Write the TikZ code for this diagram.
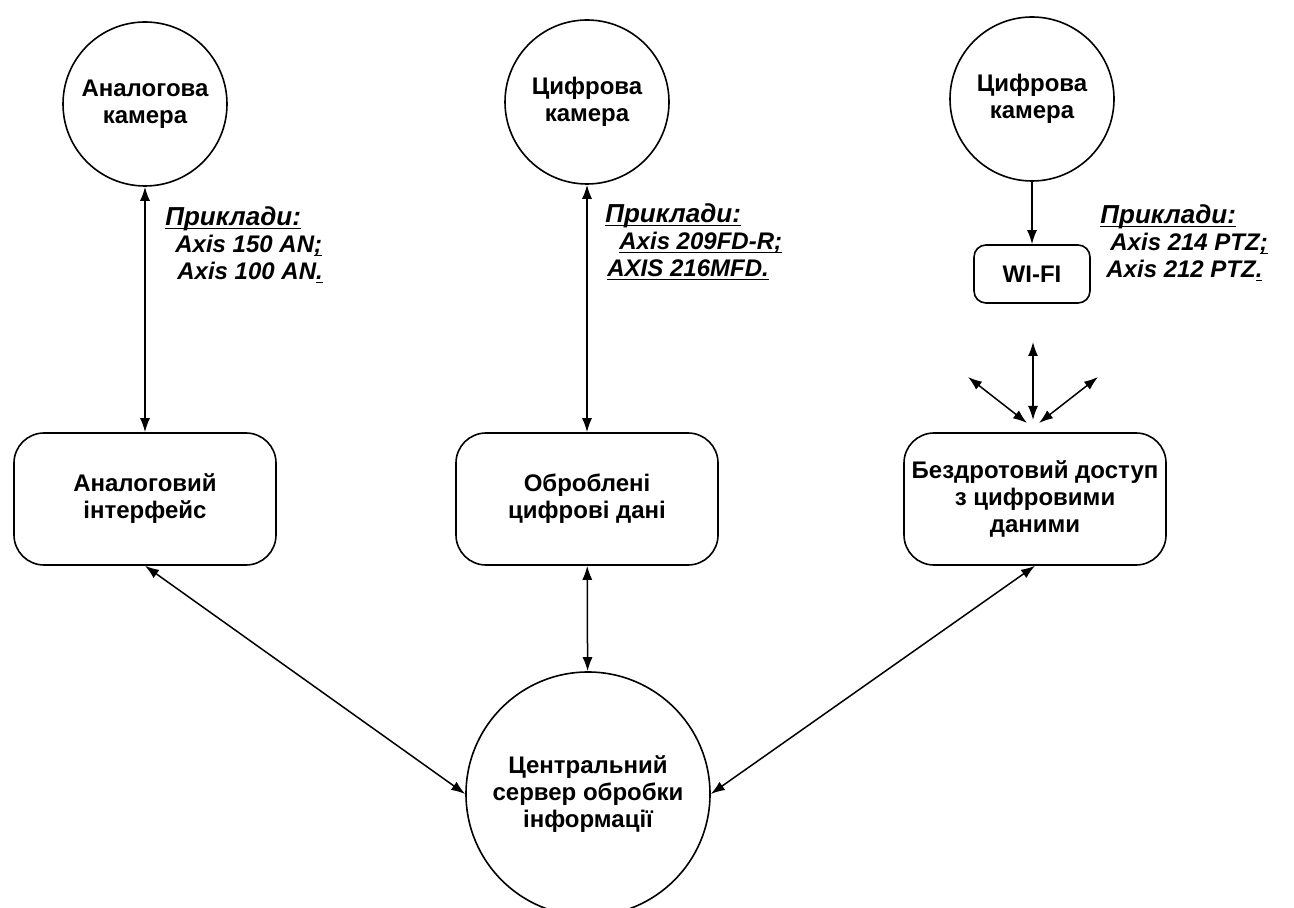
\documentclass[tikz,border=0pt]{standalone}
\usepackage{amsmath}
\usepackage{fontspec}
\setmainfont{Liberation Sans}
\usetikzlibrary{shapes,arrows.meta,positioning}

\newcommand{\uln}[1]{\underline{\smash[b]{#1}}}

\tikzset{
  txt/.style={font=\bfseries\fontsize{12}{13.5}\selectfont},
  camera/.style={circle,draw,line width=0.8pt,minimum size=82pt,inner sep=0pt,align=center,txt},
  server/.style={circle,draw,line width=0.8pt,minimum size=122pt,inner sep=0pt,align=center,txt},
  block/.style={draw,rounded corners=15pt,line width=0.8pt,minimum width=131pt,minimum height=66pt,align=center,txt},
  wifibox/.style={draw,rounded corners=6pt,line width=0.8pt,minimum width=58pt,minimum height=29pt,txt},
  example/.style={anchor=north west,inner sep=0pt,align=left,font=\bfseries\itshape\fontsize{12}{13.5}\selectfont},
  link/.style={<->,line width=0.75pt},
}

\begin{document}
\begin{tikzpicture}[x=0.5pt,y=-0.5pt,>={Latex[length=7pt,width=5pt]}]
		\useasboundingbox (0,0) rectangle (1294,908);
		% cameras
		\node[camera] (cam1) at (145,104) {Аналогова\\камера};
		\node[camera] (cam2) at (587,102) {Цифрова\\камера};
		\node[camera] (cam3) at (1032,99) {Цифрова\\камера};
		% interfaces
		\node[block] (analog) at (145,499) {Аналоговий\\інтерфейс};
		\node[block] (digital) at (587,499) {Оброблені\\цифрові дані};
		\node[block] (wireless) at (1035,499) {Бездротовий доступ\\з цифровими\\даними};
		\node[wifibox] (wifi) at (1032,274) {WI-FI};
		\node[server] (server) at (588,794) {Центральний\\сервер обробки\\інформації};
		% examples
		\node[example] (ex1) at (165,206) {{\fontsize{13}{13.5}\selectfont\uln{Приклади:}}\\\hspace{5pt}Axis 150 AN\uln{;}\\\hspace{6pt}Axis 100 AN\uln{.}};
		\node[example] (ex2) at (605,203) {{\fontsize{13}{13.5}\selectfont\uln{Приклади:}}\\\hspace{7pt}\uln{Axis 209FD-R;}\\\hspace{1pt}\uln{AXIS 216MFD.}};
		\node[example] (ex3) at (1100,204) {{\fontsize{13}{13.5}\selectfont\uln{Приклади:}}\\\hspace{5pt}Axis 214 PTZ\uln{;}\\\hspace{3pt}Axis 212 PTZ\uln{.}};
		% antenna
		\coordinate (up) at (1033,342);
		\coordinate (upend) at (1033,420);
		\coordinate (left) at (968,377);
		\coordinate (leftend) at (1027,423);
		\coordinate (right) at (1098,377);
		\coordinate (rightend) at (1039,423);
		\draw[link] (up) -- (upend);
		\draw[link] (left) -- (leftend);
		\draw[link] (right) -- (rightend);
		% links
		\draw[link] (cam1) -- (analog);
		\draw[link] (cam2) -- (digital);
		\draw[->,line width=0.75pt] (cam3) -- (wifi);
		\draw[link] (analog.south) -- (server.west);
		\draw[link] (digital) -- (server);
		\draw[link] (wireless.south) -- (server.east);
	\end{tikzpicture}
\end{document}
